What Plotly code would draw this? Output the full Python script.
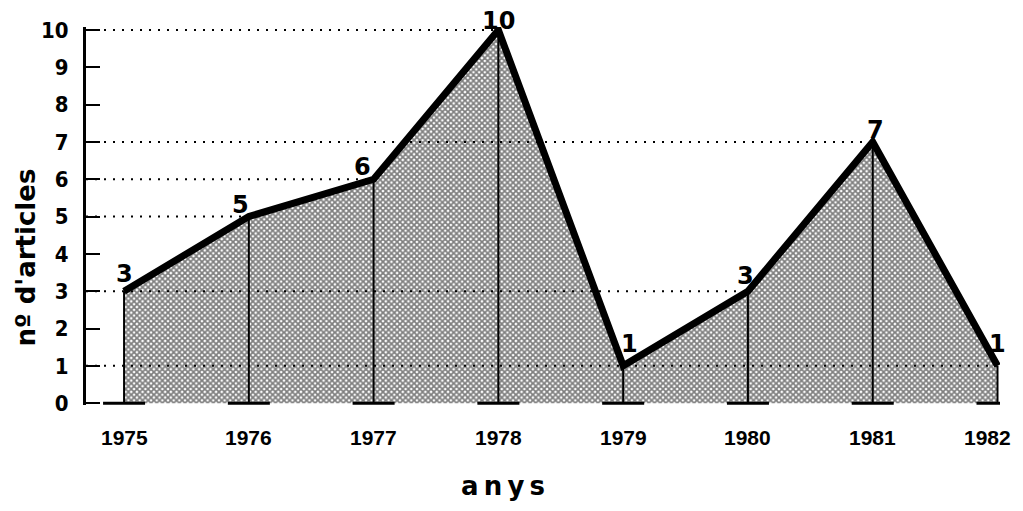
import plotly.graph_objects as go

years = [1975, 1976, 1977, 1978, 1979, 1980, 1981, 1982]
articles = [3, 5, 6, 10, 1, 3, 7, 1]
y_ticks = list(range(0, 11))
x_labels = [str(y) for y in years]
x_title = "a\u2009n\u2009y\u2009s"
y_title = "nº d'articles"

# label placement (pixel shifts relative to each point)
label_dx = [0, -8, -11, 0, 6, -2, 3, 0]
label_dy = [17, 12, 12, 9, 22, 15, 12, 22]

fig = go.Figure()

# stippled area
fig.add_trace(go.Scatter(
    x=years, y=articles, mode="lines", fill="tozeroy",
    line=dict(color="black", width=0),
    fillpattern=dict(shape="x", size=4, solidity=0.68, fgcolor="black", bgcolor="white"),
    hoverinfo="skip", showlegend=False))

# dotted guide lines from the axis to the last point with that value
x_left = 1974.695
for v in sorted(set(articles), reverse=True):
    last = max(yr for yr, a in zip(years, articles) if a == v)
    fig.add_trace(go.Scatter(
        x=[x_left, last], y=[v, v], mode="lines",
        line=dict(color="black", width=2, dash="2px,7px"),
        hoverinfo="skip", showlegend=False))

# vertical drop lines
for yr, a in zip(years, articles):
    fig.add_trace(go.Scatter(
        x=[yr, yr], y=[0, a], mode="lines",
        line=dict(color="black", width=2),
        hoverinfo="skip", showlegend=False))

# base ticks
fig.add_trace(go.Scatter(
    x=years, y=[0] * len(years), mode="markers",
    marker=dict(symbol="line-ew", size=30, line=dict(color="black", width=3)),
    hoverinfo="skip", showlegend=False))

# thick outline
fig.add_trace(go.Scatter(
    x=years, y=articles, mode="lines",
    line=dict(color="black", width=7),
    hoverinfo="skip", showlegend=False))

annotations = []
for yr, a, dx, dy in zip(years, articles, label_dx, label_dy):
    annotations.append(dict(
        x=yr, y=a, xref="x", yref="y", text=str(a), showarrow=False,
        xshift=dx, yshift=dy, xanchor="center", yanchor="middle",
        font=dict(family="DejaVu Sans", size=24, color="black", weight="bold")))

# year labels under the axis (last one right-anchored so it stays on the page)
for i, (yr, lab) in enumerate(zip(years, x_labels)):
    is_last = i == len(years) - 1
    annotations.append(dict(
        x=yr, y=0, xref="x", yref="paper", text=lab, showarrow=False,
        xanchor="right" if is_last else "center", xshift=15 if is_last else 0,
        yanchor="middle", yshift=-32,
        font=dict(family="Liberation Sans", size=21, color="black", weight="bold")))

annotations += [
    dict(text=x_title, xref="paper", yref="paper", x=0.456, y=0, yshift=-81,
         xanchor="center", yanchor="middle", showarrow=False,
         font=dict(family="DejaVu Sans", size=26, color="black", weight="bold")),
    dict(text=y_title, xref="paper", yref="paper", x=0, xshift=-60, y=0.39,
         xanchor="center", yanchor="middle", textangle=-90, showarrow=False,
         font=dict(family="DejaVu Sans", size=26, color="black", weight="bold")),
]

# page body has an 8px margin on every side
fig.update_layout(
    width=1007, height=495,
    margin=dict(l=78, r=15, t=19, b=98, autoexpand=False),
    paper_bgcolor="white", plot_bgcolor="white",
    xaxis=dict(range=[x_left, 1982.02], tickvals=years, showticklabels=False,
               showgrid=False, zeroline=False, showline=False, ticks="",
               automargin=False),
    yaxis=dict(range=[-0.05, 10.08], tickmode="array", tickvals=y_ticks,
               showgrid=False, zeroline=False, showline=True, linecolor="black", linewidth=3,
               ticks="inside", ticklen=14, tickwidth=2, tickcolor="black",
               ticklabelstandoff=10, automargin=False,
               tickfont=dict(family="DejaVu Sans Condensed", size=22, color="black", weight="bold")),
    annotations=annotations,
)

fig.write_html("out.html")
